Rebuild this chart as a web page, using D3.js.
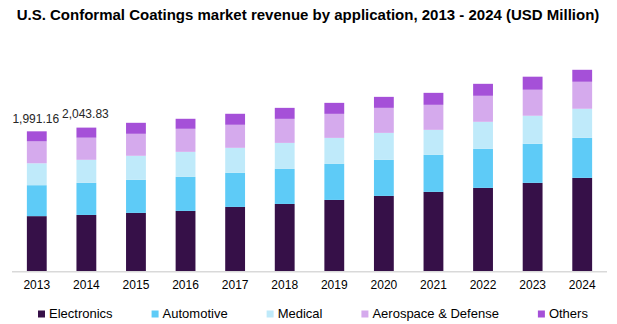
<!DOCTYPE html>
<meta charset="utf-8">
<html>
<head>
  <script src="https://d3js.org/d3.v7.min.js"></script>
  <style>
    body { margin: 0; background: #fff; }
    text { font-family: Arial, "Liberation Sans", sans-serif; }
  </style>
</head>
<body>
<div id="chart"></div>
<script>
  // data (USD Million)
  var years = ["2013","2014","2015","2016","2017","2018","2019","2020","2021","2022","2023","2024"];
  var seriesNames = ["Electronics", "Automotive", "Medical", "Aerospace & Defense", "Others"];
  var electronics = [788, 805, 834, 862, 919, 961, 1018, 1075, 1132, 1189, 1260, 1331];
  var automotive  = [439, 455, 469, 483, 483, 497, 511, 511, 525, 554, 554, 568];
  var medical     = [311, 327, 341, 355, 355, 369, 369, 383, 355, 383, 398, 412];
  var aerospace   = [311, 314, 312, 327, 327, 341, 341, 355, 355, 369, 369, 383];
  var others      = [142.16, 142.83, 156, 142, 156, 156, 156, 156, 170, 170, 185, 170];
  var labeledYears = ["2013", "2014"];
  var colors = ["#361048", "#5ecbf7", "#bfeafa", "#d5aaed", "#a550d8"];

  var W = 617, H = 324;
  var svg = d3.select("#chart").append("svg")
    .attr("width", W)
    .attr("height", H);

  // title
  svg.append("text")
    .attr("x", 308)
    .attr("y", 20)
    .attr("text-anchor", "middle")
    .style("font-size", "15px")
    .style("font-weight", "bold")
    .style("fill", "#000")
    .text("U.S. Conformal Coatings market revenue by application, 2013 - 2024 (USD Million)");

  // build rows for the stack
  var seriesArrays = [electronics, automotive, medical, aerospace, others];
  var rows = years.map(function(yr, i) {
    var r = { year: yr };
    seriesNames.forEach(function(s, j) { r[s] = seriesArrays[j][i]; });
    return r;
  });
  var stacked = d3.stack().keys(seriesNames)(rows);

  var x = d3.scaleBand()
    .domain(years)
    .range([12, 607])
    .paddingInner(0.6)
    .paddingOuter(0.3);

  var y = d3.scaleLinear()
    .domain([0, 3000])
    .range([271.7, 60.2]);

  var color = d3.scaleOrdinal().domain(seriesNames).range(colors);

  svg.selectAll(".layer")
    .data(stacked)
    .enter()
    .append("g")
      .attr("class", "layer")
      .attr("fill", function(d) { return color(d.key); })
    .selectAll("rect")
    .data(function(d) { return d; })
    .enter()
    .append("rect")
      .attr("x", function(d) { return x(d.data.year); })
      .attr("y", function(d) { return y(d[1]); })
      .attr("width", x.bandwidth())
      .attr("height", function(d) { return y(d[0]) - y(d[1]); });

  // x axis
  var xAxis = svg.append("g")
    .attr("transform", "translate(0," + y(0) + ")")
    .call(d3.axisBottom(x).tickSize(0).tickPadding(9));
  xAxis.select(".domain").attr("stroke", "#d9d9d9").attr("stroke-width", 1.5)
    .attr("d", "M12,0H607");
  xAxis.selectAll("text")
    .style("font-size", "12px")
    .style("fill", "#000")
    .style("font-family", "Arial, 'Liberation Sans', sans-serif");

  // total labels
  var fmt = d3.format(",.2f");
  var labelOffset = { "2013": 8, "2014": 10 };
  svg.selectAll(".total")
    .data(rows.filter(function(r) { return labeledYears.indexOf(r.year) >= 0; }))
    .enter()
    .append("text")
      .attr("class", "total")
      .attr("x", function(d) { return x(d.year) + x.bandwidth() / 2 - 1; })
      .attr("y", function(d) {
        var tot = d3.sum(seriesNames, function(s) { return d[s]; });
        return y(tot) - labelOffset[d.year];
      })
      .attr("text-anchor", "middle")
      .style("font-size", "12px")
      .style("fill", "#262626")
      .text(function(d) { return fmt(d3.sum(seriesNames, function(s) { return d[s]; })); });

  // legend
  var legend = svg.append("g");
  var lx = 38;
  seriesNames.forEach(function(s) {
    var g = legend.append("g").attr("transform", "translate(" + lx + ",0)");
    g.append("rect")
      .attr("x", 0).attr("y", 310.5)
      .attr("width", 7).attr("height", 7)
      .attr("fill", color(s));
    var t = g.append("text")
      .attr("x", 11).attr("y", 318)
      .style("font-size", "13px")
      .style("fill", "#000")
      .text(s);
    lx += 11 + t.node().getComputedTextLength() + 39;
  });
</script>
</body>
</html>
